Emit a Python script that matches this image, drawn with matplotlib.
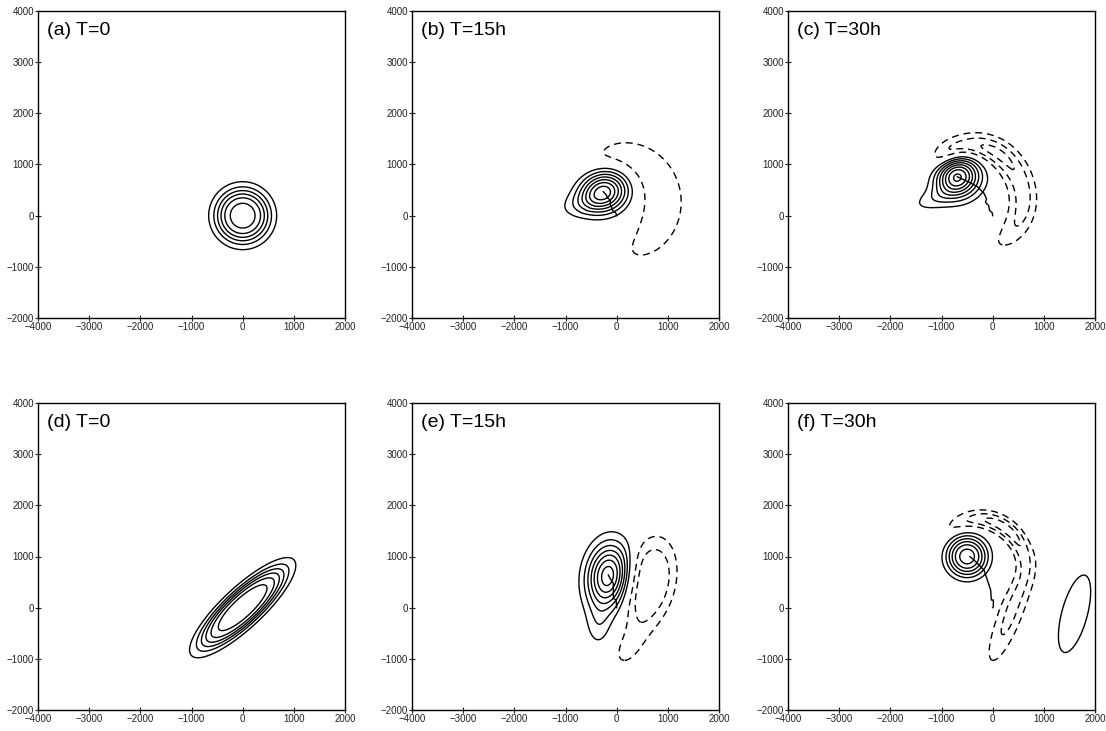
import numpy as np
import matplotlib
matplotlib.use("Agg")
import matplotlib.pyplot as plt

plt.rcParams["font.family"] = ["Liberation Sans", "DejaVu Sans"]

# ---------- vortex fields ----------
# disks:  (amp, cx, cy, a, b, angle_deg, edge)       logistic edge profile
# blobs:  (amp, cx, cy, a, b, angle_deg, power)      exp(-q**power)
# bands:  (amp, cx, cy, r0, w, theta0_deg, dtheta_deg, k)   log-spiral band

TITLES = ["(a) T=0", "(b) T=15h", "(c) T=30h", "(d) T=0", "(e) T=15h", "(f) T=30h"]

DISKS_A = [(6.9, 0, 0, 460, 460, 0, 0.25)]
BLOBS_A = []
BANDS_A = []
TRACK_A = ([], [])

DISKS_B = []
BLOBS_B = [(7.5, -262, 469, 470, 390, 15, 2.1),
           (1.3, -700, 220, 450, 250, 15, 2.0)]
BANDS_B = [(-1.9, -100, 350, 920, 480, 24, 115, -0.12)]
TRACK_B = ([0, -20, -80, -100, -130, -120, -180, -200, -262],
           [0, 60, 100, 180, 220, 300, 350, 400, 469])

DISKS_C = []
BLOBS_C = [(8.2, -690, 760, 420, 380, 15, 2.0),
           (1.4, -1150, 330, 480, 220, 20, 2.0)]
BANDS_C = [(-3.4, -450, 450, 930, 260, 60, 68, -0.05),
           (-1.7, -450, 450, 1120, 260, -25, 42, -0.05),
           (-1.4, -450, 450, 880, 230, 122, 25, 0.0)]
TRACK_C = ([0, -10, -60, -80, -140, -120, -170, -300, -450, -690],
           [0, 60, 100, 200, 260, 330, 437, 567, 650, 760])

DISKS_D = [(6.9, 0, 0, 1011, 295, 43, 0.2)]
BLOBS_D = []
BANDS_D = []
TRACK_D = ([], [])

DISKS_E = []
BLOBS_E = [(7.6, -170, 620, 620, 400, 82, 2.1),
           (1.4, -350, -350, 450, 250, 90, 2.0),
           (-3.0, 640, 500, 880, 500, 78, 3.0),
           (-1.3, 250, -750, 600, 330, 60, 2.0)]
BANDS_E = []
TRACK_E = ([0, 0, -13, -65, -65, -130, -163],
           [0, 20, 150, 182, 476, 573, 638])

DISKS_F = []
BLOBS_F = [(6.5, -500, 1000, 387, 387, 0, 2.54),
           (1.9, 1600, -120, 974, 312, 75, 2.0),
           (-2.3, 330, -180, 1000, 240, 68, 2.0)]
BANDS_F = [(-3.6, -300, 800, 930, 180, 55, 64, 0.0)]
TRACK_F = ([0, 13, 13, -26, -39, -72, -137, -170, -267, -365, -443],
           [0, 20, 150, 150, 345, 443, 638, 736, 834, 931, 997])

POS_LEVELS = [1, 2, 3, 4, 5, 6, 7, 8, 9]
NEG_LEVELS = [-5, -4, -3, -2, -1]

X_TICKS = [-4000, -3000, -2000, -1000, 0, 1000, 2000]
Y_TICKS = [-2000, -1000, 0, 1000, 2000, 3000, 4000]

xs = np.linspace(-4000, 2000, 601)
ys = np.linspace(-2000, 4000, 601)
X, Y = np.meshgrid(xs, ys)


def elliptic_q(cx, cy, a, b, ang):
    t = np.deg2rad(ang)
    u = (X - cx) * np.cos(t) + (Y - cy) * np.sin(t)
    v = -(X - cx) * np.sin(t) + (Y - cy) * np.cos(t)
    return np.sqrt((u / a) ** 2 + (v / b) ** 2)


def disk(amp, cx, cy, a, b, ang, edge):
    q = elliptic_q(cx, cy, a, b, ang)
    return amp / (1.0 + np.exp((q - 1.0) / edge))


def blob(amp, cx, cy, a, b, ang, p):
    q = elliptic_q(cx, cy, a, b, ang)
    return amp * np.exp(-q ** p)


def band(amp, cx, cy, r0, w, th0, dth, k):
    r = np.hypot(X - cx, Y - cy)
    th = np.arctan2(Y - cy, X - cx)
    d = np.angle(np.exp(1j * (th - np.deg2rad(th0))))
    rr = r0 * np.exp(k * d)
    ww = w * rr / r0
    return amp * np.exp(-((r - rr) / ww) ** 2) * np.exp(-(d / np.deg2rad(dth)) ** 2)


def field(disks, blobs, bands):
    z = np.zeros_like(X)
    for d in disks:
        z += disk(*d)
    for b in blobs:
        z += blob(*b)
    for b in bands:
        z += band(*b)
    return z


PANELS = [
    (DISKS_A, BLOBS_A, BANDS_A, TRACK_A),
    (DISKS_B, BLOBS_B, BANDS_B, TRACK_B),
    (DISKS_C, BLOBS_C, BANDS_C, TRACK_C),
    (DISKS_D, BLOBS_D, BANDS_D, TRACK_D),
    (DISKS_E, BLOBS_E, BANDS_E, TRACK_E),
    (DISKS_F, BLOBS_F, BANDS_F, TRACK_F),
]

fig = plt.figure(figsize=(11.06, 7.31), dpi=100)

lefts = [38, 412, 788]
tops = [11, 403]
size = 307

for i, (disks, blobs, bands, track) in enumerate(PANELS):
    col, row = i % 3, i // 3
    ax = fig.add_axes([lefts[col] / 1106, 1 - (tops[row] + size) / 731,
                       size / 1106, size / 731])
    z = field(disks, blobs, bands)
    ax.contour(X, Y, z, levels=POS_LEVELS, colors="k", linewidths=1.0,
               linestyles="solid")
    ax.contour(X, Y, z, levels=NEG_LEVELS, colors="k", linewidths=1.0,
               linestyles=[(0, (5, 3.5))])
    if track[0]:
        ax.plot(track[0], track[1], color="k", lw=1.0)

    ax.set_xlim(-4000, 2000)
    ax.set_ylim(-2000, 4000)
    ax.set_xticks(X_TICKS)
    ax.set_yticks(Y_TICKS)
    ax.tick_params(direction="inout", length=4, width=0.8, labelsize=7,
                   colors="#222222", pad=1)
    for s in ax.spines.values():
        s.set_linewidth(1.0)
    ax.text(0.03, 0.935, TITLES[i], transform=ax.transAxes, fontsize=14,
            va="center", ha="left")

fig.savefig("out.png", dpi=100)
